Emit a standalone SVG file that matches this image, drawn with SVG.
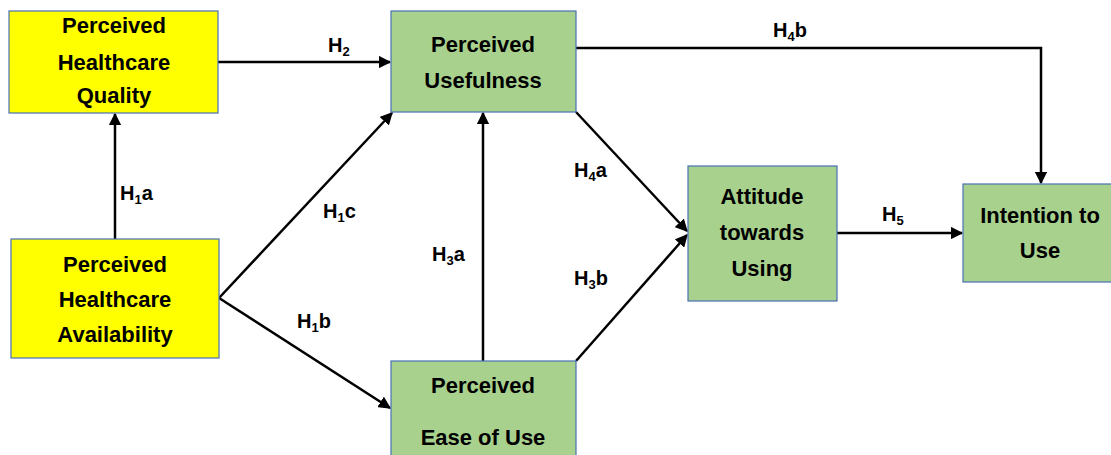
<svg xmlns="http://www.w3.org/2000/svg" width="1111" height="455" viewBox="0 0 1111 455">
<style>
.box{stroke:#4a6fb5;stroke-width:1.2}
.y{fill:#ffff00}
.g{fill:#a9d18e}
.t{font-family:"Liberation Sans",Arial,sans-serif;font-weight:bold;font-size:22px;fill:#000;text-anchor:middle}
.l{font-family:"Liberation Sans",Arial,sans-serif;font-weight:bold;font-size:20px;fill:#000}
.s{font-size:13px}
.c{stroke:#000;stroke-width:2.5;fill:none;marker-end:url(#ah)}
</style>
<defs>
<marker id="ah" viewBox="0 0 10 10" refX="9" refY="5" markerWidth="5" markerHeight="5" orient="auto" markerUnits="strokeWidth">
<path d="M0,0 L10,5 L0,10 z" fill="#000"/>
</marker>
</defs>
<rect width="1111" height="455" fill="#fff"/>
<g id="connectors">
<line class="c" x1="218" y1="62" x2="390" y2="62"/>
<line class="c" x1="115" y1="239" x2="115" y2="114"/>
<line class="c" x1="219" y1="298" x2="392" y2="113"/>
<line class="c" x1="219" y1="298" x2="390" y2="408"/>
<line class="c" x1="483" y1="361" x2="483" y2="113"/>
<line class="c" x1="576" y1="112" x2="687" y2="231"/>
<line class="c" x1="576" y1="361" x2="687" y2="235"/>
<line class="c" x1="837" y1="233" x2="962" y2="233"/>
<polyline class="c" points="576,48 1041,48 1041,183"/>
</g>
<g id="labels">
<text class="l" x="328" y="52">H<tspan class="s" dy="4">2</tspan></text>
<text class="l" x="773" y="37">H<tspan class="s" dy="4">4</tspan><tspan dy="-4">b</tspan></text>
<text class="l" x="120" y="200">H<tspan class="s" dy="4">1</tspan><tspan dy="-4">a</tspan></text>
<text class="l" x="323" y="218">H<tspan class="s" dy="4">1</tspan><tspan dy="-4">c</tspan></text>
<text class="l" x="297" y="328">H<tspan class="s" dy="4">1</tspan><tspan dy="-4">b</tspan></text>
<text class="l" x="432" y="261">H<tspan class="s" dy="4">3</tspan><tspan dy="-4">a</tspan></text>
<text class="l" x="574" y="177">H<tspan class="s" dy="4">4</tspan><tspan dy="-4">a</tspan></text>
<text class="l" x="574" y="285">H<tspan class="s" dy="4">3</tspan><tspan dy="-4">b</tspan></text>
<text class="l" x="882" y="221">H<tspan class="s" dy="4">5</tspan></text>
</g>
<g id="phq">
<rect class="box y" x="9" y="11" width="209" height="102"/>
<text class="t" x="114" y="33">Perceived</text>
<text class="t" x="114" y="70">Healthcare</text>
<text class="t" x="114" y="103">Quality</text>
</g>
<g id="pha">
<rect class="box y" x="11" y="239" width="208" height="119"/>
<text class="t" x="115" y="272">Perceived</text>
<text class="t" x="115" y="307">Healthcare</text>
<text class="t" x="115" y="342">Availability</text>
</g>
<g id="pu">
<rect class="box g" x="391" y="11" width="185" height="101"/>
<text class="t" x="483" y="52">Perceived</text>
<text class="t" x="483" y="88">Usefulness</text>
</g>
<g id="peou">
<rect class="box g" x="391" y="361" width="185" height="110"/>
<text class="t" x="483" y="393">Perceived</text>
<text class="t" x="483" y="445">Ease of Use</text>
</g>
<g id="atu">
<rect class="box g" x="688" y="166" width="149" height="135"/>
<text class="t" x="762" y="204">Attitude</text>
<text class="t" x="762" y="240">towards</text>
<text class="t" x="762" y="276">Using</text>
</g>
<g id="itu">
<rect class="box g" x="963" y="184" width="155" height="98"/>
<text class="t" x="1040" y="223">Intention to</text>
<text class="t" x="1040" y="258">Use</text>
</g>
</svg>
